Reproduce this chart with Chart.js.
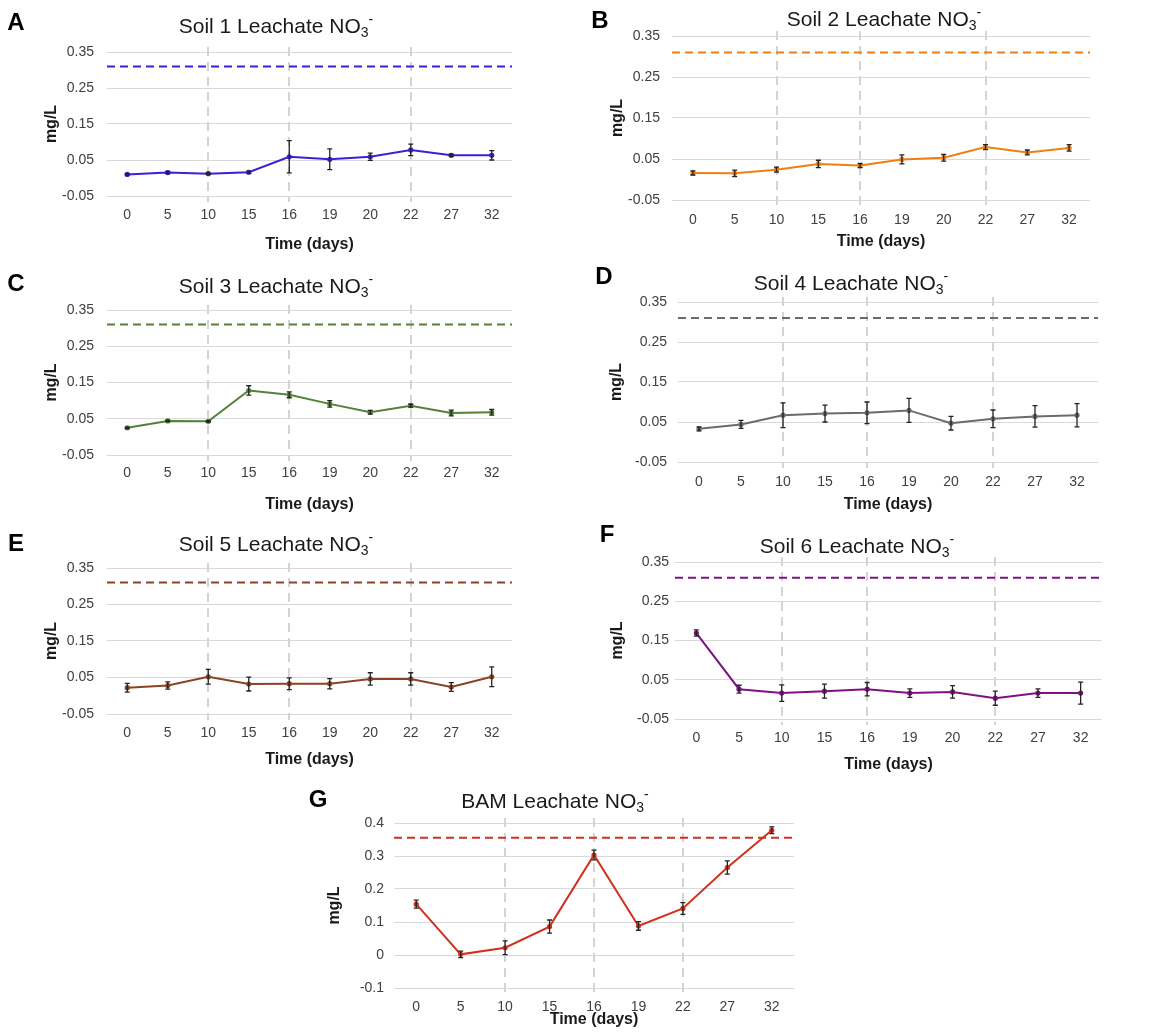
<!DOCTYPE html>
<html>
<head>
<meta charset="utf-8">
<script src="https://cdn.jsdelivr.net/npm/chart.js@4.4.1/dist/chart.umd.min.js"></script>
<style>
  html, body { margin: 0; padding: 0; background: #fff; }
  #page { position: relative; width: 1163px; height: 1034px; overflow: hidden; }
  #page canvas { position: absolute; }
  .tag { position: absolute; font: bold 24px "Liberation Sans", Arial, sans-serif; color: #000;
         transform: translate(-50%, -50%); line-height: 1; }
</style>
</head>
<body>
<div id="page"></div>
<script>
/* NO3- leachate panels A-G: line + error bars, limit line, marker days */

const FONT = '"Liberation Sans", Arial, sans-serif';

// x categories
const soilDays = ['0', '5', '10', '15', '16', '19', '20', '22', '27', '32'];
const bamDays  = ['0', '5', '10', '15', '16', '19', '22', '27', '32'];
const markerDays = ['10', '16', '22'];

// y ticks
const soilTicks = [-0.05, 0.05, 0.15, 0.25, 0.35];
const soilTickLabels = ['-0.05', '0.05', '0.15', '0.25', '0.35'];
const bamTicks = [-0.1, 0, 0.1, 0.2, 0.3, 0.4];
const bamTickLabels = ['-0.1', '0', '0.1', '0.2', '0.3', '0.4'];

// dashed limit lines
const soilLimit = 0.31;
const bamLimit = 0.355;

// means and error (± mg/L)
const soil1Mean = [0.010, 0.015, 0.012, 0.016, 0.059, 0.052, 0.059, 0.078, 0.063, 0.063];
const soil1Err  = [0.002, 0.003, 0.002, 0.003, 0.045, 0.029, 0.010, 0.016, 0.003, 0.013];
const soil2Mean = [0.016, 0.015, 0.024, 0.038, 0.034, 0.049, 0.053, 0.079, 0.066, 0.077];
const soil2Err  = [0.005, 0.008, 0.006, 0.009, 0.005, 0.011, 0.008, 0.006, 0.006, 0.008];
const soil3Mean = [0.025, 0.044, 0.043, 0.128, 0.116, 0.091, 0.068, 0.086, 0.066, 0.068];
const soil3Err  = [0.002, 0.002, 0.002, 0.013, 0.008, 0.009, 0.005, 0.004, 0.008, 0.008];
const soil4Mean = [0.033, 0.044, 0.067, 0.071, 0.073, 0.079, 0.047, 0.058, 0.064, 0.067];
const soil4Err  = [0.005, 0.010, 0.031, 0.021, 0.027, 0.030, 0.017, 0.022, 0.027, 0.029];
const soil5Mean = [0.022, 0.028, 0.052, 0.032, 0.033, 0.033, 0.046, 0.046, 0.024, 0.052];
const soil5Err  = [0.012, 0.010, 0.020, 0.019, 0.016, 0.014, 0.017, 0.017, 0.012, 0.027];
const soil6Mean = [0.169, 0.026, 0.016, 0.021, 0.026, 0.016, 0.019, 0.003, 0.016, 0.016];
const soil6Err  = [0.008, 0.010, 0.021, 0.018, 0.017, 0.011, 0.016, 0.018, 0.011, 0.028];
const bamMean   = [0.154, 0.002, 0.022, 0.086, 0.303, 0.088, 0.141, 0.265, 0.378];
const bamErr    = [0.012, 0.010, 0.021, 0.020, 0.015, 0.013, 0.018, 0.020, 0.010];

// title "... NO" + subscript 3 + superscript -
const titlePlugin = {
  id: 'subTitle',
  afterDraw(chart, args, o) {
    const ctx = chart.ctx;
    const big = '21px ' + FONT, small = '14px ' + FONT;
    ctx.save();
    ctx.font = big;
    const w1 = ctx.measureText(o.text).width;
    ctx.font = small;
    const w2 = ctx.measureText('3').width;
    const w3 = ctx.measureText('-').width;
    let x = o.x - (w1 + w2 + w3) / 2;
    const base = o.y + 7.5;
    ctx.fillStyle = '#1a1a1a';
    ctx.textAlign = 'left';
    ctx.textBaseline = 'alphabetic';
    ctx.font = big;
    ctx.fillText(o.text, x, base);
    x += w1;
    ctx.font = small;
    ctx.fillText('3', x, base + 4);
    x += w2;
    ctx.fillText('-', x, base - 9);
    ctx.restore();
  }
};

// vertical marker days + horizontal limit line
const guidePlugin = {
  id: 'guides',
  beforeDatasetsDraw(chart, args, o) {
    const { ctx, chartArea: a, scales: { x, y } } = chart;
    const labels = chart.data.labels;
    ctx.save();
    ctx.lineWidth = 2;
    ctx.strokeStyle = '#d4d4d4';
    ctx.setLineDash([9, 6]);
    o.marks.forEach(d => {
      const i = labels.indexOf(d);
      if (i < 0) return;
      const px = Math.round(x.getPixelForValue(i));
      ctx.beginPath();
      ctx.moveTo(px, a.top - 5);
      ctx.lineTo(px, a.bottom + 6);
      ctx.stroke();
    });
    ctx.strokeStyle = o.color;
    ctx.setLineDash([8, 5]);
    const py = y.getPixelForValue(o.limit);
    ctx.beginPath();
    ctx.moveTo(a.left, py);
    ctx.lineTo(a.right, py);
    ctx.stroke();
    ctx.restore();
  }
};

const errBarPlugin = {
  id: 'errBars',
  afterDatasetsDraw(chart, args, o) {
    const ctx = chart.ctx, ys = chart.scales.y;
    const meta = chart.getDatasetMeta(0);
    const vals = chart.data.datasets[0].data;
    ctx.save();
    ctx.strokeStyle = '#222';
    ctx.lineWidth = 1.3;
    meta.data.forEach((pt, i) => {
      const e = o.errors[i];
      if (!e) return;
      const y1 = ys.getPixelForValue(vals[i] + e);
      const y2 = ys.getPixelForValue(vals[i] - e);
      ctx.beginPath();
      ctx.moveTo(pt.x, y1); ctx.lineTo(pt.x, y2);
      ctx.moveTo(pt.x - 2.5, y1); ctx.lineTo(pt.x + 2.5, y1);
      ctx.moveTo(pt.x - 2.5, y2); ctx.lineTo(pt.x + 2.5, y2);
      ctx.stroke();
    });
    ctx.restore();
  }
};

const page = document.getElementById('page');

function makePanel(p) {
  const [cx, cy, cw, ch] = p.box;
  const [L, T, R, B] = p.plot;
  const lh = 16 * 1.2;

  const cv = document.createElement('canvas');
  cv.width = cw; cv.height = ch;
  cv.style.left = cx + 'px'; cv.style.top = cy + 'px';
  page.appendChild(cv);

  const tag = document.createElement('div');
  tag.className = 'tag';
  tag.textContent = p.letter;
  tag.style.left = p.letterAt[0] + 'px';
  tag.style.top = p.letterAt[1] + 'px';
  page.appendChild(tag);

  new Chart(cv, {
    type: 'line',
    data: {
      labels: p.days,
      datasets: [{
        data: p.mean,
        borderColor: p.color,
        backgroundColor: p.color,
        borderWidth: 2,
        pointRadius: 2.6,
        pointHoverRadius: 2.6,
        pointBorderWidth: 0,
        tension: 0
      }]
    },
    options: {
      responsive: false,
      animation: false,
      events: [],
      layout: { padding: { left: 0, top: T - cy, right: cx + cw - R, bottom: 0 } },
      plugins: {
        legend: { display: false },
        tooltip: { enabled: false },
        subTitle: { text: p.title, x: p.titleAt[0] - cx, y: p.titleAt[1] - cy },
        guides: { marks: markerDays, limit: p.limit, color: p.color },
        errBars: { errors: p.err }
      },
      scales: {
        x: {
          type: 'category',
          offset: true,
          grid: { display: false, drawTicks: false },
          border: { display: false },
          ticks: {
            autoSkip: false, maxRotation: 0,
            padding: p.xLabelY - B - 8.4,
            color: '#404040',
            font: { size: 14, family: FONT }
          },
          title: {
            display: true, text: 'Time (days)', color: '#1a1a1a',
            font: { size: 16, weight: 'bold', family: FONT },
            padding: { top: 0, bottom: cy + ch - p.timeY - lh / 2 }
          },
          afterFit: s => { s.height = cy + ch - B; }
        },
        y: {
          min: p.ticks[0],
          max: p.ticks[p.ticks.length - 1],
          grid: { color: '#d9d9d9', lineWidth: 1, drawTicks: false },
          border: { display: false },
          afterBuildTicks: s => { s.ticks = p.ticks.map(v => ({ value: v })); },
          ticks: {
            padding: L - p.yLabelRight,
            color: '#404040',
            font: { size: 14, family: FONT },
            callback: (v, i) => p.tickLabels[i]
          },
          title: {
            display: true, text: 'mg/L', color: '#1a1a1a',
            font: { size: 16, weight: 'bold', family: FONT },
            padding: { top: p.mgLx - cx - lh / 2, bottom: 0 }
          },
          afterFit: s => { s.width = L - cx; }
        }
      }
    },
    plugins: [guidePlugin, errBarPlugin, titlePlugin]
  });
}

const soilAxis = { days: soilDays, ticks: soilTicks, tickLabels: soilTickLabels, limit: soilLimit };

makePanel({ ...soilAxis, letter: 'A', title: 'Soil 1 Leachate NO', mean: soil1Mean, err: soil1Err, color: '#3d1fd6',
  box: [0, 0, 580, 260], plot: [107, 52, 512, 196], yLabelRight: 94, xLabelY: 215, mgLx: 52, timeY: 245,
  titleAt: [276, 25], letterAt: [16, 22] });
makePanel({ ...soilAxis, letter: 'B', title: 'Soil 2 Leachate NO', mean: soil2Mean, err: soil2Err, color: '#ef7f12',
  box: [580, 0, 583, 260], plot: [672, 36, 1090, 200], yLabelRight: 660, xLabelY: 220, mgLx: 618, timeY: 242,
  titleAt: [884, 18], letterAt: [600, 20] });
makePanel({ ...soilAxis, letter: 'C', title: 'Soil 3 Leachate NO', mean: soil3Mean, err: soil3Err, color: '#548235',
  box: [0, 260, 580, 260], plot: [107, 310, 512, 455], yLabelRight: 94, xLabelY: 473, mgLx: 52, timeY: 505,
  titleAt: [276, 285], letterAt: [16, 283] });
makePanel({ ...soilAxis, letter: 'D', title: 'Soil 4 Leachate NO', mean: soil4Mean, err: soil4Err, color: '#6b6b6b',
  box: [580, 260, 583, 260], plot: [678, 302, 1098, 462], yLabelRight: 667, xLabelY: 482, mgLx: 617, timeY: 505,
  titleAt: [851, 282], letterAt: [604, 276] });
makePanel({ ...soilAxis, letter: 'E', title: 'Soil 5 Leachate NO', mean: soil5Mean, err: soil5Err, color: '#8b4323',
  box: [0, 520, 580, 260], plot: [107, 568, 512, 714], yLabelRight: 94, xLabelY: 733, mgLx: 52, timeY: 760,
  titleAt: [276, 543], letterAt: [16, 543] });
makePanel({ ...soilAxis, letter: 'F', title: 'Soil 6 Leachate NO', mean: soil6Mean, err: soil6Err, color: '#7f1283',
  box: [580, 520, 583, 260], plot: [675, 562, 1102, 719], yLabelRight: 669, xLabelY: 738, mgLx: 618, timeY: 765,
  titleAt: [857, 545], letterAt: [607, 534] });
makePanel({ letter: 'G', title: 'BAM Leachate NO', days: bamDays, ticks: bamTicks, tickLabels: bamTickLabels,
  limit: bamLimit, mean: bamMean, err: bamErr, color: '#d0321d',
  box: [290, 780, 600, 254], plot: [394, 823, 794, 988], yLabelRight: 384, xLabelY: 1007, mgLx: 335, timeY: 1020,
  titleAt: [555, 800], letterAt: [318, 799] });
</script>
</body>
</html>
